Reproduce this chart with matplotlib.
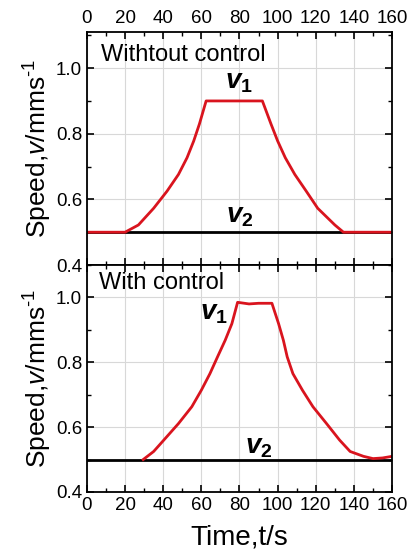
import matplotlib.pyplot as plt
from matplotlib.ticker import MultipleLocator

plt.rcParams['font.family'] = ['Liberation Sans', 'DejaVu Sans']
plt.rcParams['mathtext.fontset'] = 'custom'
plt.rcParams['mathtext.rm'] = 'Liberation Sans'
plt.rcParams['mathtext.it'] = 'Liberation Sans:italic'
plt.rcParams['mathtext.bf'] = 'Liberation Sans:bold'
plt.rcParams['mathtext.bfit'] = 'Liberation Sans:italic:bold'

# without control: v1 (red) and v2 (black)
t_free = [0, 20, 27, 35, 42, 48, 52.5, 56, 59, 62.5, 92, 96.5, 100, 104, 109, 115, 121, 130, 134.5, 160]
v1_free = [0.5, 0.5, 0.522, 0.573, 0.625, 0.676, 0.727, 0.778, 0.83, 0.9,
           0.9, 0.83, 0.778, 0.727, 0.676, 0.625, 0.573, 0.522, 0.5, 0.5]
t_v2_free = [0, 160]
v2_free = [0.5, 0.5]

# with control
t_ctrl = [29.5, 35, 40, 48, 55, 60, 64.5, 68.5, 72.5, 76, 79, 85, 90, 97,
          100.5, 103, 105, 108, 113, 118.5, 125.5, 132.5, 138, 145, 150, 155, 160]
v1_ctrl = [0.5, 0.525, 0.558, 0.611, 0.663, 0.714, 0.765, 0.817, 0.868, 0.919, 0.985, 0.98, 0.982, 0.982,
           0.919, 0.868, 0.817, 0.765, 0.714, 0.663, 0.612, 0.56, 0.525, 0.51, 0.503, 0.505, 0.51]
t_v2_ctrl = [0, 160]
v2_ctrl = [0.5, 0.5]

x_ticks = [0, 20, 40, 60, 80, 100, 120, 140, 160]
y_ticks = [0.4, 0.6, 0.8, 1.0]

fig = plt.figure(figsize=(4.08, 5.57), dpi=100)
ax1 = fig.add_axes([0.213, 0.5242, 0.748, 0.4183])
ax2 = fig.add_axes([0.213, 0.1167, 0.748, 0.4075])


def style(ax, ytop):
    ax.set_xlim(0, 160)
    ax.set_ylim(0.4, ytop)
    ax.set_xticks(x_ticks)
    ax.set_yticks(y_ticks)
    ax.xaxis.set_minor_locator(MultipleLocator(10))
    ax.yaxis.set_minor_locator(MultipleLocator(0.1))
    ax.grid(True, which='major', color='#d8d8d8', linewidth=0.8)
    ax.set_axisbelow(True)
    ax.tick_params(which='both', direction='in', top=True, right=True, labelsize=13.5)
    ax.tick_params(which='major', length=5, width=1.2)
    ax.tick_params(which='minor', length=3, width=1.0)
    for s in ax.spines.values():
        s.set_linewidth(1.3)
    ax.set_ylabel('Speed,$\\mathit{v}$/mms$^{\\text{-1}}$', fontsize=19, labelpad=1)


style(ax1, 1.11)
style(ax2, 1.1)

ax1.plot(t_v2_free, v2_free, color='black', lw=2)
ax1.plot(t_free, v1_free, color='#d9141e', lw=2)
ax1.tick_params(labelbottom=False, labeltop=True)
ax1.text(7.5, 1.04, 'Withtout control', fontsize=17, va='center')
ax1.text(80, 0.957, '$\\mathbfit{v}_\\mathbf{1}$', fontsize=20, ha='center', va='center')
ax1.text(80, 0.55, '$\\mathbfit{v}_\\mathbf{2}$', fontsize=20, ha='center', va='center')

ax2.plot(t_v2_ctrl, v2_ctrl, color='black', lw=2)
ax2.plot(t_ctrl, v1_ctrl, color='#d9141e', lw=2)
ax2.text(6.5, 1.046, 'With control', fontsize=17, va='center')
ax2.text(66.5, 0.952, '$\\mathbfit{v}_\\mathbf{1}$', fontsize=20, ha='center', va='center')
ax2.text(90, 0.54, '$\\mathbfit{v}_\\mathbf{2}$', fontsize=20, ha='center', va='center')
ax2.set_xlabel('Time,t/s', fontsize=20, labelpad=8)

fig.savefig('out.png', dpi=100)
